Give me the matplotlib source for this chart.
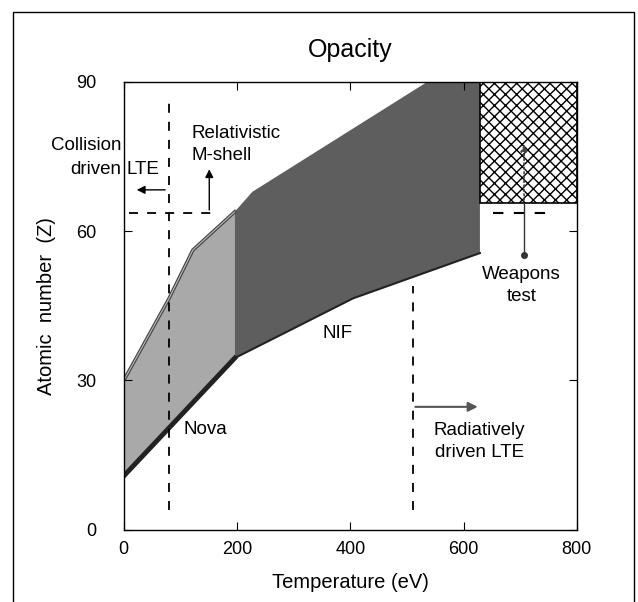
import matplotlib
matplotlib.use('Agg')
import matplotlib.pyplot as plt
from matplotlib.patches import Rectangle

plt.rcParams['font.family'] = ['Liberation Sans', 'DejaVu Sans']

# Nova band (0-200 eV)
nova_upper_T = [0, 80, 122, 196]
nova_upper_Z = [30, 46.5, 56.2, 63.9]
nova_lower_T = [0, 196]
nova_lower_Z = [10.8, 34.5]

# NIF band (200-630 eV)
nif_upper_T = [196, 227, 536, 629]
nif_upper_Z = [63.9, 67.9, 90, 90]
nif_lower_T = [196, 405, 629]
nif_lower_Z = [34.5, 46.5, 55.6]

# Weapons test region
weap_T = [629, 800]
weap_Z = [65.7, 90]

# dashed limits
coll_T = 80          # collision driven LTE
coll_Z = [4, 87]
rel_Z = 63.7         # relativistic M-shell
rel_T = [10, 165]
rad_T = 510          # radiatively driven LTE
rad_Z = [4, 49]
weap_dash_Z = 63.6
weap_dash_T = [652, 760]

fig = plt.figure(figsize=(6.38, 6.02), dpi=100)
ax = fig.add_axes([0.194, 0.120, 0.710, 0.744])

# Nova
ax.fill(nova_upper_T + nova_lower_T[::-1], nova_upper_Z + nova_lower_Z[::-1],
        color='#a9a9a9', lw=0)
ax.plot(nova_upper_T, nova_upper_Z, color='#444444', lw=2.5)
ax.plot(nova_upper_T, nova_upper_Z, color='#bbbbbb', lw=0.8)
ax.plot(nova_lower_T, nova_lower_Z, color='#222222', lw=3.5)

# NIF
ax.fill(nif_upper_T + [nif_lower_T[-1]] + nif_lower_T[::-1],
        nif_upper_Z + [nif_lower_Z[-1]] + nif_lower_Z[::-1],
        color='#5e5e5e', lw=0)
ax.plot(nif_lower_T, nif_lower_Z, color='#222222', lw=1.5)

# Weapons test
ax.add_patch(Rectangle((weap_T[0], weap_Z[0]), weap_T[1] - weap_T[0], weap_Z[1] - weap_Z[0],
                       facecolor='white', edgecolor='black', hatch='xxx', lw=1.2))

# szaggatott vonalak
ax.plot([coll_T, coll_T], coll_Z, color='black', ls=(0, (5, 5)), lw=1.3)
ax.plot(rel_T, [rel_Z, rel_Z], color='black', ls=(0, (5, 5)), lw=1.3)
ax.plot([rad_T, rad_T], rad_Z, color='black', ls=(0, (5, 5)), lw=1.3)
ax.plot(weap_dash_T, [weap_dash_Z, weap_dash_Z], color='black', ls=(0, (5, 5)), lw=1.5)

# nyilak
ax.annotate('', xy=(18, 68.3), xytext=(78, 68.3),
            arrowprops=dict(arrowstyle='-|>', color='black', lw=1.0, mutation_scale=12))
ax.annotate('', xy=(151, 73), xytext=(151, 63.7),
            arrowprops=dict(arrowstyle='-|>', color='black', lw=1.0, mutation_scale=12))
ax.annotate('', xy=(630, 24.7), xytext=(510, 24.7),
            arrowprops=dict(arrowstyle='-|>', color='#555555', lw=1.5, mutation_scale=14))
ax.plot([707, 707], [55.3, 65.7], color='#333333', lw=1.0)
ax.annotate('', xy=(707, 78), xytext=(707, 65.7),
            arrowprops=dict(arrowstyle='-|>', color='#444444', lw=1.2, ls=':', mutation_scale=10))
ax.plot([707], [55.3], 'o', color='#333333', ms=4)

# feliratok
fs = 13.5
ax.text(-4, 77.3, 'Collision', ha='right', va='center', fontsize=fs)
ax.text(-4, 72.3, 'driven', ha='right', va='center', fontsize=fs)
ax.text(4, 72.3, 'LTE', ha='left', va='center', fontsize=fs)
ax.text(120, 79.7, 'Relativistic', ha='left', va='center', fontsize=fs)
ax.text(120, 75.3, 'M-shell', ha='left', va='center', fontsize=fs)
ax.text(144, 20.2, 'Nova', ha='center', va='center', fontsize=fs)
ax.text(378, 39.4, 'NIF', ha='center', va='center', fontsize=fs)
ax.text(628, 19.9, 'Radiatively', ha='center', va='center', fontsize=fs)
ax.text(628, 15.5, 'driven LTE', ha='center', va='center', fontsize=fs)
ax.text(702, 51.2, 'Weapons', ha='center', va='center', fontsize=fs)
ax.text(702, 46.8, 'test', ha='center', va='center', fontsize=fs)

ax.set_xlim(0, 800)
ax.set_ylim(0, 90)
ax.set_xticks([0, 200, 400, 600, 800])
ax.set_yticks([0, 30, 60, 90])
ax.tick_params(direction='in', length=6, top=True, right=True, labelsize=13)
ax.tick_params(axis='y', pad=20)
ax.tick_params(axis='x', pad=8)
ax.set_xlabel('Temperature (eV)', fontsize=14.5, labelpad=11)
ax.set_ylabel('Atomic  number  (Z)', fontsize=14.5, labelpad=14)
ax.set_title('Opacity', fontsize=18, pad=18)
for s in ax.spines.values():
    s.set_linewidth(1.0)

# lap kerete
fig.patches.append(Rectangle((0.020, -0.01), 0.974, 0.99, transform=fig.transFigure,
                             fill=False, edgecolor='black', lw=1.0))

fig.savefig('out.png', dpi=100)
